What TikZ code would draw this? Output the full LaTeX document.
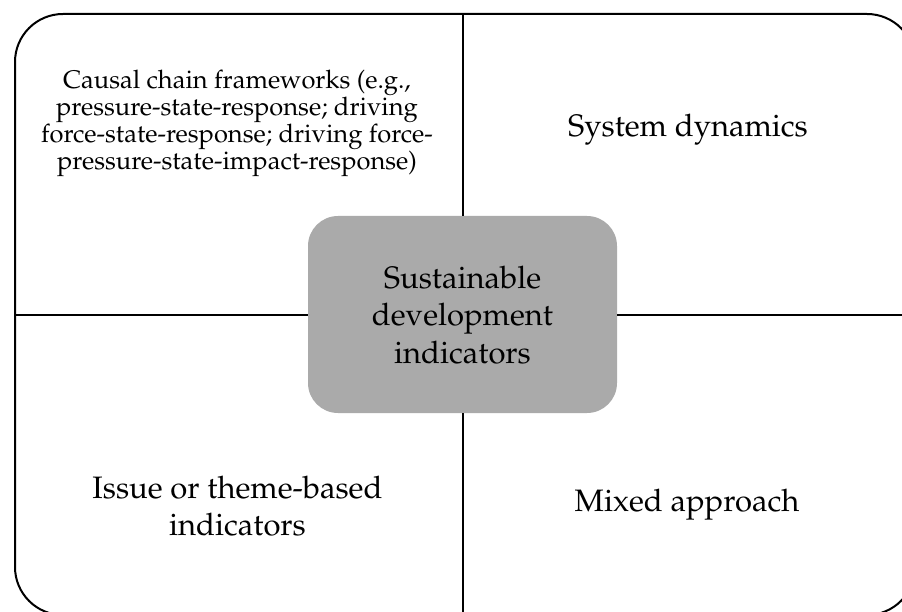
\documentclass[tikz,border=0pt]{standalone}
\IfFileExists{mathpazo.sty}{%
  \usepackage[T1]{fontenc}\usepackage{mathpazo}%
  \newcommand{\bigsz}{\fontsize{31}{37.5}\selectfont}%
  \newcommand{\smallsz}{\fontsize{25.5}{27}\selectfont}}{%
  \usepackage{fontspec}\setmainfont{Liberation Serif}%
  \newcommand{\bigsz}{\fontsize{33.5}{37.5}\selectfont}%
  \newcommand{\smallsz}{\fontsize{27.5}{27}\selectfont}}
\begin{document}
\begin{tikzpicture}[x=1pt,y=-1pt,
  frame/.style={draw=black,line width=2pt},
  hub/.style={fill=boxgray,rounded corners=30pt,minimum width=309pt,minimum height=197pt,inner sep=0pt},
  bigtext/.style={align=center,font=\bigsz,inner sep=0pt},
  smalltext/.style={align=center,font=\smallsz,inner sep=0pt}]
\definecolor{boxgray}{HTML}{AAAAAA}
\useasboundingbox (0,0) rectangle (902,612);
\node[frame,rounded corners=48pt,minimum width=900pt,minimum height=601pt,inner sep=0pt] (outer) at (465,314.5) {};
\node[hub] (hub) at (462.5,314.5) {};
\node[bigtext] (hubtext) at (462.5,315) {Sustainable\\development\\indicators};
\draw[frame] (hub.north) -- (hub.north |- outer.north);
\draw[frame] (hub.south) -- (hub.south |- outer.south);
\draw[frame] (hub.west) -- (hub.west -| outer.west);
\draw[frame] (hub.east) -- (hub.east -| outer.east);
\node[smalltext] (causal) at (237,123) {Causal chain frameworks (e.g.,\\pressure-state-response; driving\\force-state-response; driving force-\\pressure-state-impact-response)};
\node[bigtext] (sysdyn) at (688,130) {System dynamics};
\node[bigtext] (issue) at (237.5,506) {Issue or theme-based\\indicators};
\node[bigtext] (mixed) at (687,505) {Mixed approach};
\end{tikzpicture}
\end{document}
